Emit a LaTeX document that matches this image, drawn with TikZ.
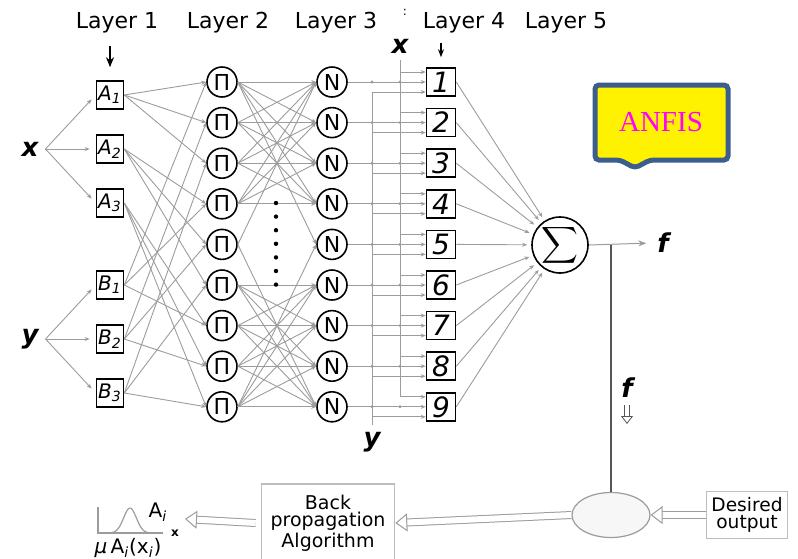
\documentclass[tikz,border=0pt]{standalone}
\usepackage{fontspec}
\setmainfont{DejaVu Sans}
\newfontfamily\anfisfont{Liberation Serif}
\usepackage{xcolor}
\usetikzlibrary{positioning,arrows.meta,calc,shapes.geometric}
\definecolor{cWire}{HTML}{9c9c9c}
\definecolor{cBox} {HTML}{bdbdbd}
\definecolor{cNote}{HTML}{3b5e8c}
\definecolor{cPink}{HTML}{ff00ff}
\definecolor{cDark}{HTML}{555555}

\begin{document}
\begin{tikzpicture}[x=0.5pt,y=-0.5pt,font=\fontsize{11}{13}\selectfont,
    wire/.style={cWire,line width=0.45pt,-{Stealth[length=2.5pt,width=2pt]}},
    mfbox/.style={draw,line width=0.8pt,minimum width=13.5pt,minimum height=14pt,inner sep=0pt,font=\fontsize{10}{10}\selectfont\itshape},
    prodnode/.style={draw,circle,line width=0.8pt,minimum size=15pt,inner sep=0pt,font=\fontsize{11}{11}\selectfont},
    rulebox/.style={draw,line width=0.8pt,minimum width=14.5pt,minimum height=14pt,inner sep=0pt,font=\fontsize{14}{14}\selectfont\itshape},
    var/.style={font=\fontsize{13}{13}\selectfont\bfseries\itshape},
    greybox/.style={draw=cBox,line width=0.8pt,align=center,inner sep=1pt},
    hollow/.style={draw=cWire,line width=0.5pt,double=white,double distance=3pt,-{Triangle[open,length=6pt,width=9pt,fill=white]}}]
  \useasboundingbox (0,0) rectangle (798,558);
  % layer titles
  \foreach \t/\xx in {1/117,2/228,3/336,4/464,5/566}
    \node (lay\t) at (\xx,23) {Layer \t};
  \node[font=\fontsize{6}{6}\selectfont] (dd) at (405,12) {:};
  % inputs and membership boxes
  \node[var] (inx) at (30,149) {x};
  \node[var] (iny) at (30,339) {y};
  \foreach \i/\yy in {1/95,2/149,3/203}
    \node[mfbox] (a\i) at (110,\yy) {A\textsubscript{\i}};
  \foreach \i/\yy in {1/285,2/339,3/393}
    \node[mfbox] (b\i) at (110,\yy) {B\textsubscript{\i}};
  \foreach \i in {1,2,3} {
    \draw[wire,shorten >=3pt] (inx.east) -- (a\i.west);
    \draw[wire,shorten >=3pt] (iny.east) -- (b\i.west);
  }
  \draw[-{Stealth[length=5pt,width=4pt]},line width=0.7pt,shorten <=3pt,shorten >=6.5pt] (lay1.south -| a1.north) -- (a1.north);
  % rule rows
  \foreach \k in {1,...,9} {
    \pgfmathsetmacro\yy{82+(\k-1)*40.6}
    \node[prodnode] (p\k) at (222,\yy) {Π};
    \node[prodnode] (n\k) at (332,\yy) {N};
    \node[rulebox]  (r\k) at (441,\yy) {\k};
  }
  \draw[-{Stealth[length=4pt,width=3pt]},line width=0.6pt,shorten <=1.5pt,shorten >=5pt] (lay4.south -| r1.north) -- (r1.north);
  \foreach \i in {1,2,3} \foreach \j in {1,2,3} {
    \pgfmathtruncatemacro\pa{3*(\i-1)+\j}
    \pgfmathtruncatemacro\pb{\i+3*(\j-1)}
    \draw[wire] (a\i.east) -- (p\pa.west);
    \draw[wire] (b\i.east) -- (p\pb.west);
  }
  \foreach \i in {1,...,4} \foreach \j in {1,...,4}
    \draw[wire] (p\i.east) -- (n\j.west);
  \foreach \i in {6,...,9} \foreach \j in {6,...,9}
    \draw[wire] (p\i.east) -- (n\j.west);
  \foreach \i/\j in {1/5,5/1,5/9,9/5}
    \draw[wire] (p\i.east) -- (n\j.west);
  \foreach \d in {0,...,6}
    \fill (276,{203+\d*13.6}) circle (1.1pt);
  % x and y buses into layer 4
  \node[var] (bx) at (400,46) {x};
  \node[var] (by) at (372,442) {y};
  \draw[wire] (bx.south) |- ($(r9.west)+(0,-10)$);
  \draw[wire] (by.north) |- ($(r1.west)+(0,10)$);
  \foreach \k in {1,...,8}
    \draw[wire] ($(bx.south |- r\k.west)+(0,-10)$) -- ($(r\k.west)+(0,-10)$);
  \foreach \k in {2,...,9}
    \draw[wire] ($(by.north |- r\k.west)+(0,10)$) -- ($(r\k.west)+(0,10)$);
  \foreach \k in {1,...,9} {
    \draw[wire] (n\k.east) -- (r\k.west);
    \fill[cWire] (bx.south |- r\k.west) circle (0.8pt);
    \fill[cWire] (by.north |- r\k.west) circle (0.8pt);
  }
  % layer 5
  \node[draw,circle,line width=0.8pt,minimum size=28pt,inner sep=0pt] (sum) at (560,245)
    {\scalebox{1.28}{$\displaystyle\sum$}};
  \foreach \k in {1,...,9}
    \draw[wire,shorten >=2pt] (r\k.east) -- (sum);
  \node[var] (fo) at (663,243) {f};
  \draw[cWire,line width=0.5pt,-{Stealth[length=4pt,width=3pt]},shorten >=2pt] (sum.east) -- (fo.west);
  % training loop
  \node[ellipse,draw=cWire,fill=gray!6,line width=0.6pt,minimum width=39pt,minimum height=22.5pt,inner sep=0pt] (err) at (611,515) {};
  \draw[cDark,line width=0.6pt] (err.north) -- (err.north |- sum.east);
  \node[var] (fb) at (627,388) {f};
  \coordinate (fbtip) at (627,424);
  \draw[draw=cDark,line width=0.4pt,double=white,double distance=2pt,-{Triangle[open,length=4pt,width=6pt,fill=white]}] (fb.south) -- (fbtip);
  \node[greybox,minimum width=66.5pt,minimum height=39pt,font=\fontsize{9.5}{8.7}\selectfont] (bp) at (328,523) {Back\\propagation\\Algorithm};
  \node[greybox,minimum width=40.5pt,minimum height=23.5pt,font=\fontsize{9.3}{8.3}\selectfont] (des) at (747,515) {Desired\\output};
  \draw[hollow] (des.west) -- (err.east);
  \draw[hollow] (err.west) -- (bp.east);
  \coordinate (mftip) at (185,519);
  \draw[hollow] ($(bp.west)+(-5,0)$) -- (mftip);
  % membership function sketch
  \draw[cWire,line width=0.6pt] (98,507) |- (163,533);
  \draw[cWire,line width=0.6pt,domain=-24:24,samples=40] plot ({130+\x},{533-25*exp(-(\x/9)^2)});
  \node[font=\fontsize{10}{10}\selectfont] (ai) at (158,512) {A\textsubscript{\textit{i}}};
  \node[font=\fontsize{6}{6}\selectfont\bfseries] (xax) at (175,533) {x};
  \node[font=\fontsize{10}{10}\selectfont] (muai) at (128,548) {\textit{μ}\,A\textsubscript{\textit{i}}(x\textsubscript{\textit{i}})};
  % note
  \draw[cNote,line width=2.5pt,fill=yellow,rounded corners=2pt] (595,85) -- (728,85) -- (728,160) -- (650,160) -- (635,168) -- (620,160) -- (595,160) -- cycle;
  \node[font=\anfisfont\fontsize{14.5}{14.5}\selectfont,text=cPink] (anfis) at (661,122) {ANFIS};
\end{tikzpicture}
\end{document}
